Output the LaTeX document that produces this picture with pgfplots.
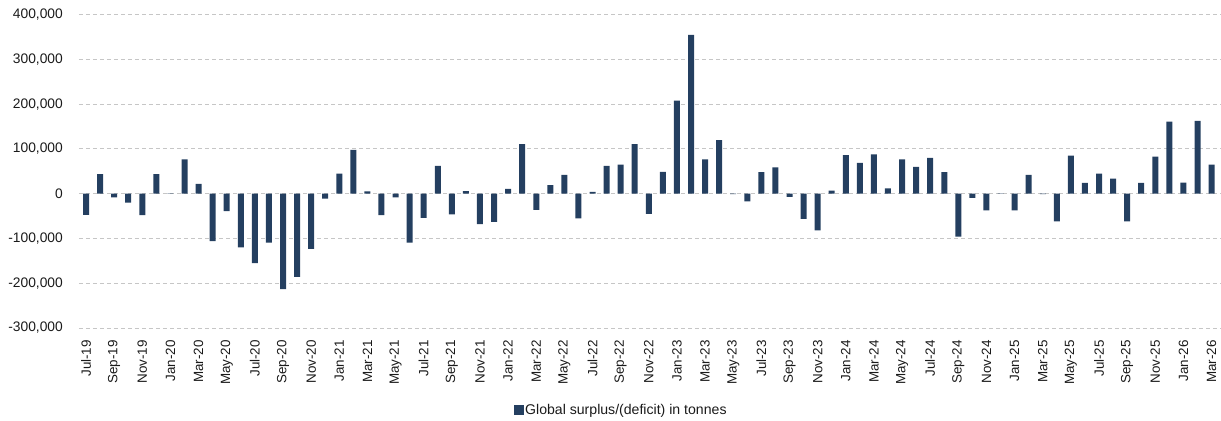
\documentclass[border=0pt]{standalone}
\usepackage{pgfplots}
\pgfplotsset{compat=1.18}
\usepackage{fontspec}
\setmainfont{Liberation Sans}
\definecolor{barcol}{RGB}{36,63,96}
\definecolor{gridcol}{RGB}{198,198,198}
\definecolor{txtcol}{RGB}{26,26,26}
\begin{document}
\begin{tikzpicture}
\begin{axis}[
  at={(0,0)}, anchor=south west,
  scale only axis,
  width=1142bp, height=313.3bp,
  xmin=-0.5, xmax=80.67,
  ymin=-300000, ymax=400000,
  ybar, bar width=6bp,
  axis line style={draw=none},
  major tick length=0pt,
  ytick={-300000,-200000,-100000,0,100000,200000,300000,400000},
  yticklabels={{-300,000},{-200,000},{-100,000},{0},{100,000},{200,000},{300,000},{400,000}},
  scaled y ticks=false,
  xtick={0,2,...,80},
  xticklabels={Jul-19,Sep-19,Nov-19,Jan-20,Mar-20,May-20,Jul-20,Sep-20,Nov-20,Jan-21,Mar-21,May-21,Jul-21,Sep-21,Nov-21,Jan-22,Mar-22,May-22,Jul-22,Sep-22,Nov-22,Jan-23,Mar-23,May-23,Jul-23,Sep-23,Nov-23,Jan-24,Mar-24,May-24,Jul-24,Sep-24,Nov-24,Jan-25,Mar-25,May-25,Jul-25,Sep-25,Nov-25,Jan-26,Mar-26},
  xticklabel style={rotate=90, anchor=east, inner sep=0pt, font=\fontsize{13.4bp}{15bp}\selectfont, text=txtcol},
  yticklabel style={anchor=east, inner sep=0pt, font=\fontsize{13.8bp}{15bp}\selectfont, text=txtcol},
  xticklabel shift=12bp,
  yticklabel shift=16bp,
  ymajorgrids,
  grid style={draw=gridcol, line width=1bp, dash pattern=on 4bp off 3bp},
  legend style={at={(0.4745,-0.262)}, anchor=center, draw=none, fill=none,
    font=\fontsize{14.1bp}{16bp}\selectfont, text=txtcol, inner sep=0pt,
    nodes={inner sep=1.5bp}},
  legend image code/.code={\fill[barcol] (0bp,-5bp) rectangle (10bp,5bp);},
]
\addplot[fill=barcol, draw=none] coordinates {
(0,-47000) (1,44000) (2,-8000) (3,-20000) (4,-48000) (5,44000) (6,1000) (7,77000) (8,22000) (9,-106000)
(10,-39000) (11,-120000) (12,-155000) (13,-109000) (14,-213000) (15,-186000) (16,-123000) (17,-11000) (18,45000) (19,98000)
(20,5000) (21,-48000) (22,-8000) (23,-109000) (24,-54000) (25,62000) (26,-46000) (27,6000) (28,-68000) (29,-63000)
(30,11000) (31,111000) (32,-36000) (33,19000) (34,42000) (35,-55000) (36,4000) (37,62000) (38,65000) (39,111000)
(40,-45000) (41,49000) (42,208000) (43,355000) (44,77000) (45,120000) (46,-1000) (47,-17000) (48,48000) (49,59000)
(50,-7000) (51,-56000) (52,-82000) (53,7000) (54,86000) (55,69000) (56,88000) (57,12000) (58,77000) (59,60000)
(60,80000) (61,48000) (62,-96000) (63,-9000) (64,-37000) (65,1000) (66,-37000) (67,42000) (68,-1000) (69,-62000)
(70,85000) (71,24000) (72,45000) (73,34000) (74,-62000) (75,24000) (76,83000) (77,161000) (78,25000) (79,163000)
(80,65000)
};
\addlegendentry{Global surplus/(deficit) in tonnes}
\end{axis}
\pgfresetboundingbox
\path[use as bounding box] (-79bp,-93bp) rectangle (1142bp,328bp);
\end{tikzpicture}
\end{document}
